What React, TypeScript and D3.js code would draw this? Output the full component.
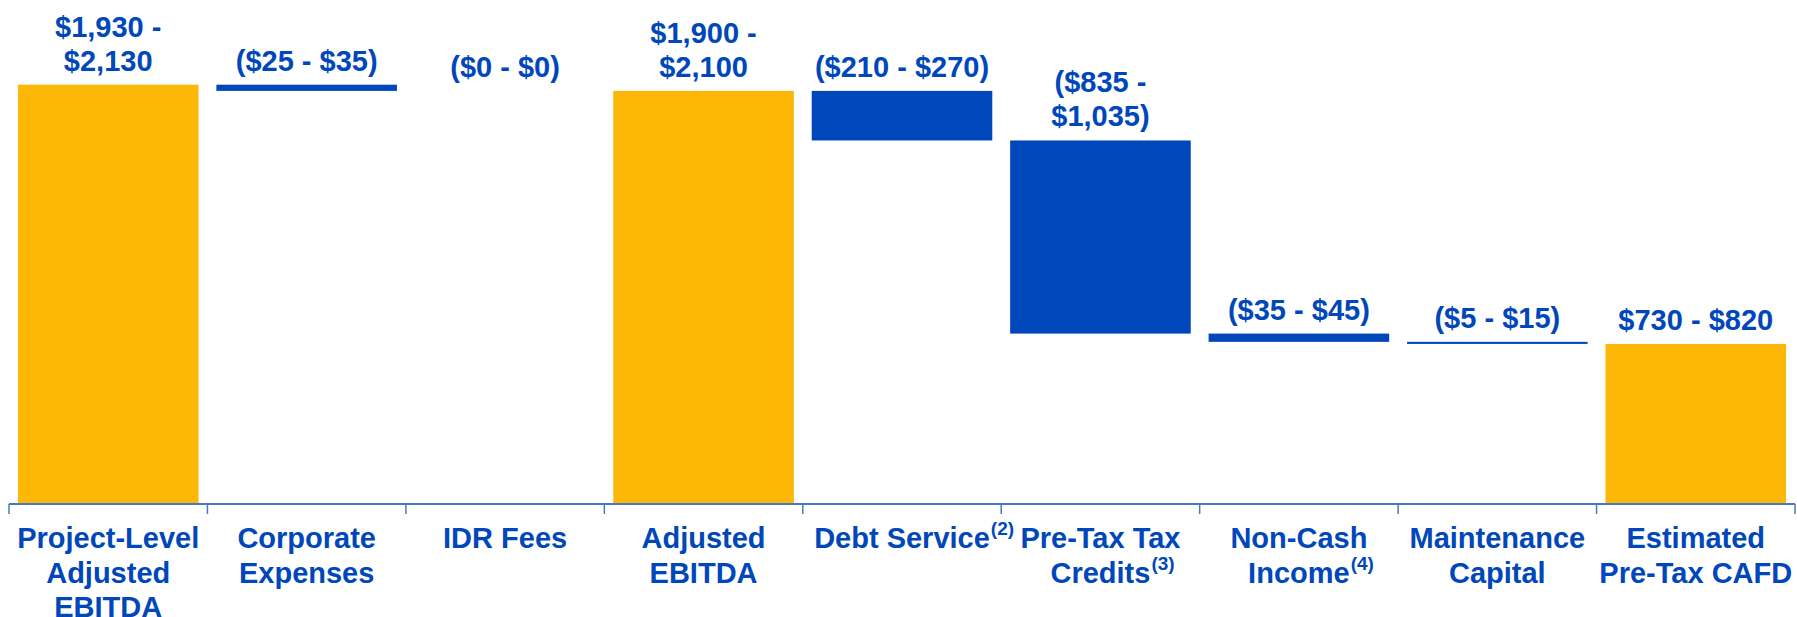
import React, { useEffect, useRef } from "react";
import * as d3 from "d3";

const categories = [
  "Project-Level Adjusted EBITDA",
  "Corporate Expenses",
  "IDR Fees",
  "Adjusted EBITDA",
  "Debt Service",
  "Pre-Tax Tax Credits",
  "Non-Cash Income",
  "Maintenance Capital",
  "Estimated Pre-Tax CAFD",
];
const categoryLines = [
  ["Project-Level", "Adjusted", "EBITDA"],
  ["Corporate", "Expenses"],
  ["IDR Fees"],
  ["Adjusted", "EBITDA"],
  ["Debt Service"],
  ["Pre-Tax Tax", "Credits"],
  ["Non-Cash", "Income"],
  ["Maintenance", "Capital"],
  ["Estimated", "Pre-Tax CAFD"],
];
const footnotes = ["", "", "", "", "(2)", "(3)", "(4)", "", ""];
// bar heights = midpoint of each range, deductions negative
const values = [2030, -30, 0, 2000, -240, -935, -40, -10, 775];
const isTotal = [true, false, false, true, false, false, false, false, true];
const valueLabels = [
  ["$1,930 -", "$2,130"],
  ["($25 - $35)"],
  ["($0 - $0)"],
  ["$1,900 -", "$2,100"],
  ["($210 - $270)"],
  ["($835 -", "$1,035)"],
  ["($35 - $45)"],
  ["($5 - $15)"],
  ["$730 - $820"],
];

const GOLD = "#FDB706";
const BLUE = "#0047BB";
const AXIS = "#4A78C6";
const FONT = "'Liberation Sans', Arial, sans-serif";

function App() {
  const svgRef = useRef(null);

  useEffect(() => {
    const svg = d3.select(svgRef.current);
    svg.selectAll("*").remove();

    const axisY = 504;
    const x = d3
      .scaleBand()
      .domain(categories)
      .range([9, 1795])
      .paddingInner(0.09)
      .paddingOuter(0.045);
    const y = d3.scaleLinear().domain([0, 2440]).range([axisY, 0]);

    // waterfall segments
    let running = 0;
    const segs = values.map((v, i) => {
      if (isTotal[i]) {
        running = v;
        return { top: v, bottom: 0 };
      }
      const top = running;
      running = running + v;
      return { top, bottom: running };
    });

    svg
      .append("g")
      .selectAll("rect")
      .data(categories)
      .enter()
      .append("rect")
      .attr("x", (d) => x(d))
      .attr("width", x.bandwidth())
      .attr("y", (d, i) => y(segs[i].top))
      .attr("height", (d, i) => y(segs[i].bottom) - y(segs[i].top))
      .attr("fill", (d, i) => (isTotal[i] ? GOLD : BLUE));

    // axis line + boundary ticks
    const half = (x.step() * x.paddingInner()) / 2;
    const bounds = categories.map((c) => x(c) - half);
    bounds.push(x(categories[categories.length - 1]) + x.bandwidth() + half);
    const ax = svg.append("g");
    ax.append("line")
      .attr("x1", bounds[0])
      .attr("x2", bounds[bounds.length - 1])
      .attr("y1", axisY)
      .attr("y2", axisY)
      .attr("stroke", AXIS)
      .attr("stroke-width", 2);
    ax.selectAll(".tick")
      .data(bounds)
      .enter()
      .append("line")
      .attr("class", "tick")
      .attr("x1", (d) => d)
      .attr("x2", (d) => d)
      .attr("y1", axisY)
      .attr("y2", axisY + 10)
      .attr("stroke", AXIS)
      .attr("stroke-width", 1.5);

    // value labels
    categories.forEach((c, i) => {
      const cx = x(c) + x.bandwidth() / 2;
      const lines = valueLabels[i];
      const base = y(segs[i].top) - 14;
      const t = svg
        .append("text")
        .attr("text-anchor", "middle")
        .attr("font-family", FONT)
        .attr("font-weight", "bold")
        .attr("font-size", 29)
        .attr("fill", BLUE);
      lines.forEach((l, j) => {
        t.append("tspan")
          .attr("x", cx)
          .attr("y", base - (lines.length - 1 - j) * 34)
          .text(l);
      });
    });

    // category labels
    categories.forEach((c, i) => {
      const cx = x(c) + x.bandwidth() / 2;
      const lines = categoryLines[i];
      lines.forEach((l, j) => {
        const by = 548 + j * 34.5;
        const t = svg
          .append("text")
          .attr("x", cx)
          .attr("y", by)
          .attr("text-anchor", "middle")
          .attr("font-family", FONT)
          .attr("font-weight", "bold")
          .attr("font-size", 29)
          .attr("fill", BLUE)
          .text(l);
        if (j === lines.length - 1 && footnotes[i]) {
          const len = t.node().getComputedTextLength();
          svg
            .append("text")
            .attr("x", cx + len / 2 + 1)
            .attr("y", by - 13)
            .attr("font-family", FONT)
            .attr("font-weight", "bold")
            .attr("font-size", 19)
            .attr("fill", BLUE)
            .text(footnotes[i]);
        }
      });
    });
  }, []);

  return (
    <svg
      ref={svgRef}
      width={1797}
      height={617}
      style={{ position: "absolute", left: 0, top: 0, background: "#fff" }}
    />
  );
}

export default App;
